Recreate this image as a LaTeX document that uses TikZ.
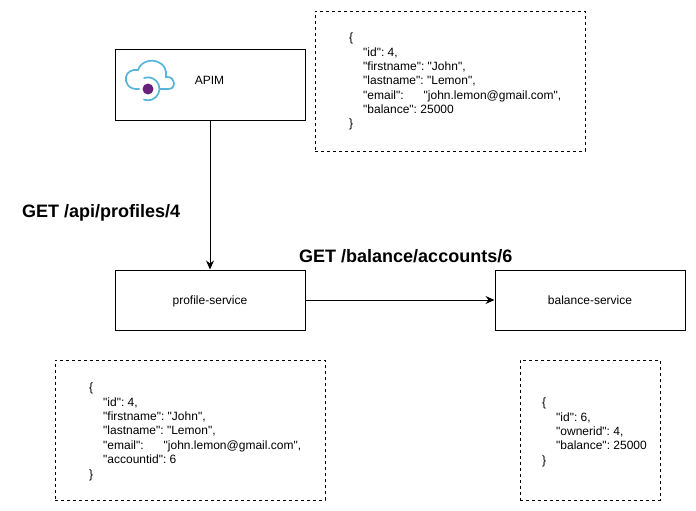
\documentclass[tikz,border=0pt]{standalone}
\usepackage{fontspec}
\setmainfont{Liberation Sans}[Ligatures=TeXOff]
\usepackage{xcolor}
\usetikzlibrary{arrows, arrows.meta}
\usetikzlibrary{positioning}
\usetikzlibrary{calc}
\definecolor{cloudblue}{HTML}{59B4D9}
\definecolor{dotpurple}{HTML}{68217A}
\tikzset{
	servicebox/.style={draw, line width=1pt, minimum width=190pt, text height=9pt, text depth=1pt, font=\frenchspacing\fontsize{12}{14}\selectfont},
	jsonbox/.style={draw, dashed, line width=0.8pt, minimum height=140pt},
	jsontext/.style={align=left, inner sep=0pt, font=\frenchspacing\fontsize{12}{14.35}\selectfont},
	calllabel/.style={inner sep=0pt, font=\frenchspacing\fontsize{18}{20}\selectfont\bfseries},
	callarrow/.style={-{Stealth[length=9pt,width=8pt]}, line width=1pt}
}
\begin{document}
\begin{tikzpicture}[x=1pt, y=-1pt]
	\useasboundingbox (0,0) rectangle (696,511);
	% services
	\node[servicebox, minimum height=70pt] (apim) at (210,85){};
	\node[inner sep=0pt, font=\fontsize{12}{14}\selectfont] (apimLabel) at (209.5,80){APIM};
	\node[servicebox, minimum height=60pt] (profile) at (210,300){profile-service};
	\node[servicebox, minimum height=60pt] (balance) at (590,300){balance-service};
	% json boxes
	\node[jsonbox, minimum width=270pt] (apimBox) at (450,81){};
	\node[jsonbox, minimum width=270pt] (profileBox) at (190,430){};
	\node[jsonbox, minimum width=140pt] (balanceBox) at (590,430){};
	\node[jsontext, anchor=north west] (apimJson) at (349,33){\{\\
		\hspace{14pt}"id": 4,\\
		\hspace{14pt}"firstname": "John",\\
		\hspace{14pt}"lastname": "Lemon",\\
		\hspace{14pt}"email":\hspace{20pt}"john.lemon@gmail.com",\\
		\hspace{14pt}"balance": 25000\\
		\}};
	\node[jsontext, anchor=north west] (profileJson) at (89,383){\{\\
		\hspace{14pt}"id": 4,\\
		\hspace{14pt}"firstname": "John",\\
		\hspace{14pt}"lastname": "Lemon",\\
		\hspace{14pt}"email":\hspace{20pt}"john.lemon@gmail.com",\\
		\hspace{14pt}"accountid": 6\\
		\}};
	\node[jsontext, anchor=north west] (balanceJson) at (542,398){\{\\
		\hspace{14pt}"id": 6,\\
		\hspace{14pt}"ownerid": 4,\\
		\hspace{14pt}"balance": 25000\\
		\}};
	% calls
	\draw[callarrow] (apim) -- (profile);
	\draw[callarrow] (profile) -- (balance);
	\node[calllabel, anchor=west] (apiCall) at (22,212.5){GET /api/profiles/4};
	\node[calllabel, anchor=west] (balanceCall) at (299,256.5){GET /balance/accounts/6};
	% icon
	\draw[cloudblue, line width=1.7pt, line cap=round] (139,89) .. controls (128,90) and (125,82) .. (126,77)
		.. controls (127,72) and (132,69) .. (138,70)
		.. controls (141,61) and (152,59) .. (158,62)
		.. controls (164,64) and (167,70) .. (166,77)
		.. controls (172,76) and (174,81) .. (174,84)
		.. controls (174,87) and (172,89) .. (168,89) -- (160,89);
	\draw[cloudblue, line width=1.7pt, line cap=round] (144,78) arc[start angle=-110, end angle=110, radius=11.5];
	\fill[dotpurple] (148,89) circle (5.5);
\end{tikzpicture}
\end{document}
